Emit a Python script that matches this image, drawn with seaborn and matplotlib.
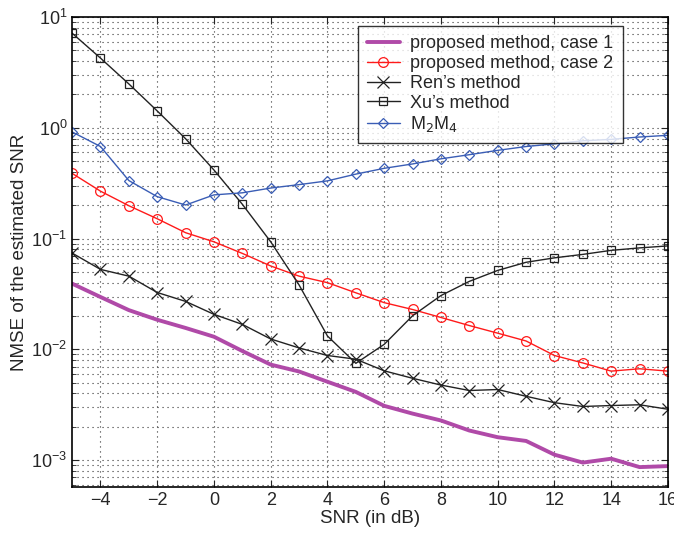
import matplotlib
matplotlib.use("Agg")
import matplotlib.pyplot as plt
import numpy as np
import pandas as pd
import seaborn as sns

# SNR values (dB)
snr = list(range(-5, 17))

# NMSE curves
case1 = [0.0392, 0.0297, 0.0226, 0.0185, 0.0156, 0.0130, 0.00966, 0.00728,
         0.00631, 0.0051, 0.00413, 0.00309, 0.00263, 0.00228, 0.00185,
         0.00161, 0.00149, 0.00112, 0.00095, 0.00103, 0.000865, 0.000883]
case2 = [0.388, 0.268, 0.198, 0.151, 0.113, 0.0935, 0.0735, 0.0566, 0.0458,
         0.040, 0.0324, 0.0264, 0.0229, 0.0194, 0.0164, 0.0140, 0.0119,
         0.0088, 0.00754, 0.00636, 0.00668, 0.00636]
ren = [0.074, 0.0527, 0.0458, 0.0326, 0.0271, 0.0207, 0.0168, 0.0124, 0.0103,
       0.0088, 0.00815, 0.0064, 0.00548, 0.00476, 0.00425, 0.00434, 0.00377,
       0.0033, 0.00305, 0.00311, 0.00316, 0.00288]
xu = [7.15, 4.26, 2.49, 1.42, 0.797, 0.416, 0.204, 0.0935, 0.0381, 0.0132,
      0.00748, 0.0111, 0.0201, 0.0306, 0.0411, 0.0516, 0.0611, 0.067, 0.072,
      0.0783, 0.0824, 0.0859]
m2m4 = [0.918, 0.678, 0.334, 0.239, 0.201, 0.248, 0.259, 0.286, 0.307, 0.332,
        0.382, 0.431, 0.472, 0.525, 0.572, 0.626, 0.678, 0.717, 0.764, 0.787,
        0.826, 0.856]

labels = ["proposed method, case 1", "proposed method, case 2",
          "Ren\u2019s method", "Xu\u2019s method", "M$_2$M$_4$"]

df = pd.DataFrame({"snr": snr, "case1": case1, "case2": case2,
                   "ren": ren, "xu": xu, "m2m4": m2m4})

sns.set_style("ticks")
plt.rcParams["font.family"] = ["Liberation Sans", "DejaVu Sans"]
plt.rcParams["xtick.direction"] = "in"
plt.rcParams["ytick.direction"] = "in"

fig = plt.figure(figsize=(6.74, 5.33), dpi=100)
ax = fig.add_axes([0.107, 0.086, 0.884, 0.882])

styles = [
    ("case1", "#b04aa8", None, 2.8, 0),
    ("case2", "#ff1a1a", "o", 1.0, 7),
    ("ren", "#222222", "x", 1.0, 9),
    ("xu", "#222222", "s", 1.0, 6),
    ("m2m4", "#3a5db5", "D", 1.0, 5.5),
]
for (col, color, marker, lw, ms), lab in zip(styles, labels):
    kw = dict(color=color, linewidth=lw, label=lab)
    if marker:
        kw.update(marker=marker, markersize=ms, markerfacecolor="none",
                  markeredgecolor=color, markeredgewidth=0.9)
    sns.lineplot(data=df, x="snr", y=col, ax=ax, **kw)

ax.set_yscale("log")
ax.set_xlim(-5, 16)
ax.set_ylim(5.7e-4, 10)
ax.set_xticks(range(-4, 17, 2))

grid_kw = dict(linestyle=(0, (1, 3.5)), color="#333333", linewidth=0.8)
ax.grid(which="major", axis="both", **grid_kw)
ax.yaxis.grid(which="minor", **grid_kw)

ax.tick_params(which="both", top=True, right=True, labelsize=13)
ax.tick_params(which="major", length=5)
ax.tick_params(which="minor", length=3)
for s in ax.spines.values():
    s.set_linewidth(1.2)
    s.set_color("black")

ax.set_xlabel("SNR (in dB)", fontsize=13.5, labelpad=1)
ax.set_ylabel("NMSE of the estimated SNR", fontsize=13.5, labelpad=2)

leg = ax.legend(loc="upper right", bbox_to_anchor=(0.924, 0.98), fontsize=13,
                frameon=True, fancybox=False, edgecolor="black",
                labelspacing=0.15, handlelength=1.8, borderpad=0.5,
                handletextpad=0.6, borderaxespad=0)
leg.get_frame().set_linewidth(1.0)

fig.savefig("out.png", dpi=100)
